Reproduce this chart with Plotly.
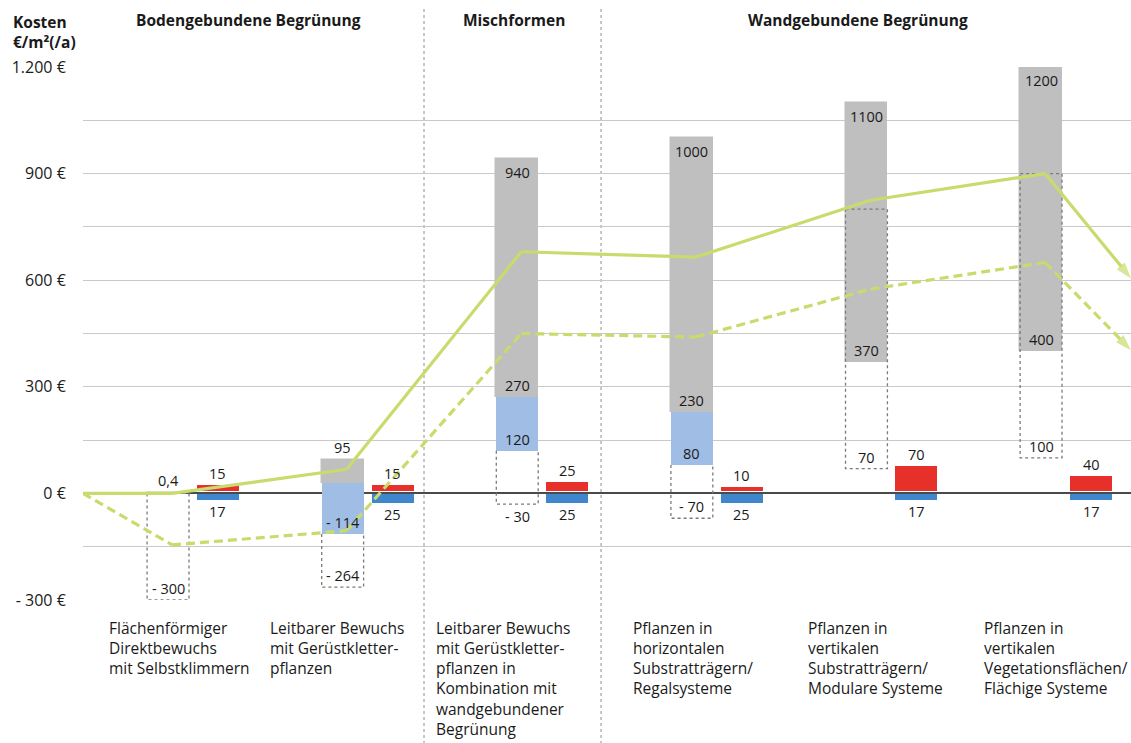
import numpy as np
import plotly.graph_objects as go

# ---------------------------------------------------------------- data
categories = [
    "Flächenförmiger<br>Direktbewuchs<br>mit Selbstklimmern",
    "Leitbarer Bewuchs<br>mit Gerüstkletter-<br>pflanzen",
    "Leitbarer Bewuchs<br>mit Gerüstkletter-<br>pflanzen in<br>Kombination mit<br>wandgebundener<br>Begrünung",
    "Pflanzen in<br>horizontalen<br>Substratträgern/<br>Regalsysteme",
    "Pflanzen in<br>vertikalen<br>Substratträgern/<br>Modulare Systeme",
    "Pflanzen in<br>vertikalen<br>Vegetationsflächen/<br>Flächige Systeme",
]
group_titles = ["Bodengebundene Begrünung", "Mischformen", "Wandgebundene Begrünung"]

# construction cost range (grey)
grey_low = [0, 30, 270, 230, 370, 400]
grey_high = [0.4, 95, 940, 1000, 1100, 1200]
# lower part of the range (light blue)
blue_low = [None, -114, 120, 80, None, None]
blue_high = [None, 30, 270, 230, None, None]
# net range (dotted box)
net_low = [-300, -264, -30, -70, 70, 100]
net_high = [0, 30, 650, 700, 800, 900]
# annual maintenance (red) and annual benefit (blue)
maintenance = [15, 15, 25, 10, 70, 40]
benefit = [17, 25, 25, 25, 17, 17]
# trend lines: start value, one value per category, end value
trend_solid = [0, 0, 68, 680, 665, 825, 900, 605]
trend_dashed = [0, -145, -105, 450, 440, 575, 650, 403]

y_ticks = [-300, -150, 0, 150, 300, 450, 600, 750, 900, 1050, 1200]
y_ticktext = ["- 300 €", "", "0 €", "", "300 €", "", "600 €", "", "900 €", "", "1.200 €"]

# ---------------------------------------------------------------- styles
FONT = "Open Sans, Noto Sans, sans-serif"
TXT = "#1a1a1a"
C_GREY = "#bfbfbf"
C_LBLUE = "#a0bde5"
C_RED = "#e8302a"
C_BLUE = "#3f86cc"
C_GREEN = "#c8db6c"
C_DOT = "#7a7a7a"

X_MIN, X_MAX = -0.63, 5.372
BAR_W = 0.24
OFF = 0.143
RED_GAP = 8
BLUE_GAP = 2

idx = np.arange(len(categories))
x_main = idx - OFF
x_side = idx + OFF
x_line = np.concatenate([[X_MIN], idx - 0.12, [X_MAX]])


def fmt(v):
    s = f"{abs(v):g}".replace(".", ",")
    return ("- " + s) if v < 0 else s


fig = go.Figure()

# grey cost range
fig.add_trace(go.Bar(
    x=x_main, base=grey_low, y=np.array(grey_high) - np.array(grey_low),
    width=BAR_W, marker=dict(color=C_GREY, line=dict(color=C_GREY, width=1.5)),
    hoverinfo="skip", showlegend=False))

# light blue part
bl_x, bl_base, bl_h = [], [], []
for i in idx:
    if blue_low[i] is not None:
        bl_x.append(x_main[i])
        bl_base.append(blue_low[i])
        bl_h.append(blue_high[i] - blue_low[i])
fig.add_trace(go.Bar(
    x=bl_x, base=bl_base, y=bl_h, width=BAR_W,
    marker=dict(color=C_LBLUE, line=dict(width=0)),
    hoverinfo="skip", showlegend=False))

# maintenance (red, upward) and benefit (blue, downward)
fig.add_trace(go.Bar(
    x=x_side, base=[RED_GAP] * len(idx), y=maintenance, width=BAR_W,
    marker=dict(color=C_RED, line=dict(width=0)),
    hoverinfo="skip", showlegend=False))
fig.add_trace(go.Bar(
    x=x_side, base=[-BLUE_GAP] * len(idx), y=[-b for b in benefit], width=BAR_W,
    marker=dict(color=C_BLUE, line=dict(width=0)),
    hoverinfo="skip", showlegend=False))

# dotted net-range boxes (the part hidden behind the light blue bar is left open)
bx, by = [], []
for i in idx:
    l, r = x_main[i] - BAR_W / 2, x_main[i] + BAR_W / 2
    top = net_high[i] if blue_low[i] is None else blue_low[i]
    if blue_low[i] is None:
        bx += [l, r, r, l, l, None]
        by += [top, top, net_low[i], net_low[i], top, None]
    else:
        bx += [l, l, r, r, None]
        by += [top, net_low[i], net_low[i], top, None]
fig.add_trace(go.Scatter(
    x=bx, y=by, mode="lines", line=dict(color=C_DOT, width=1.3, dash="dot"),
    hoverinfo="skip", showlegend=False))

# trend lines with arrow heads at the end
n = len(x_line)
arrow_sizes = [0] * (n - 1) + [17]
for vals, dash in [(trend_dashed, "9px,5px"), (trend_solid, "solid")]:
    fig.add_trace(go.Scatter(
        x=x_line, y=vals, mode="lines+markers",
        line=dict(color=C_GREEN, width=3.2, dash=dash),
        marker=dict(symbol="arrow", angleref="previous", size=arrow_sizes,
                    color=C_GREEN, line=dict(width=0)),
        cliponaxis=False, hoverinfo="skip", showlegend=False))

# ---------------------------------------------------------------- value labels
ann = []


def label(x, y, text, anchor, shift):
    ann.append(dict(x=x, y=y, xref="x", yref="y", text=text, showarrow=False,
                    xanchor="center", yanchor=anchor, yshift=shift,
                    font=dict(family=FONT, size=14.5, color=TXT)))


for i in idx:
    xm, xs = x_main[i], x_side[i]
    # grey top
    if grey_high[i] < 150:
        label(xm, grey_high[i], fmt(grey_high[i]), "bottom", 1)
    else:
        label(xm, grey_high[i], fmt(grey_high[i]), "top", -2)
    # grey bottom, where the grey range stands alone
    if grey_low[i] > 150:
        label(xm, grey_low[i], fmt(grey_low[i]), "bottom", 0)
    # light blue bottom
    if blue_low[i] is not None:
        label(xm, blue_low[i], fmt(blue_low[i]), "bottom", 0)
    # dotted box bottom
    if i == 2:
        label(xm, net_low[i], fmt(net_low[i]), "top", -1)
    else:
        label(xm, net_low[i], fmt(net_low[i]), "bottom", 0)
    # red and blue
    label(xs, RED_GAP + maintenance[i], fmt(maintenance[i]), "bottom", 0)
    label(xs, -BLUE_GAP - benefit[i], fmt(benefit[i]), "top", 0)

# category labels under the chart
cat_left = [-0.493, -0.570, -0.620, -0.491, -0.489, -0.481]
for i in idx:
    ann.append(dict(x=i + cat_left[i], y=-0.029, xref="x", yref="paper",
                    text=categories[i], showarrow=False, align="left",
                    xanchor="left", yanchor="top",
                    font=dict(family=FONT, size=15.5, color=TXT)))

# group headings
title_x = [0.315, 1.838, 3.809]
for t, x in zip(group_titles, title_x):
    ann.append(dict(x=x, y=1.088, xref="x", yref="paper", text=f"<b>{t}</b>",
                    showarrow=False, xanchor="center", yanchor="middle",
                    font=dict(family=FONT, size=15.5, color=TXT)))

# axis title
ann.append(dict(x=-0.0687, y=1.109, xref="paper", yref="paper",
                text="<b>Kosten</b><br><b>€/m²(/a)</b>", showarrow=False,
                align="left", xanchor="left", yanchor="top",
                font=dict(family=FONT, size=15.5, color=TXT)))

# dotted separators between the groups
shapes = []
for xs in [1.323, 2.337]:
    shapes.append(dict(type="line", xref="x", yref="paper", x0=xs, x1=xs,
                       y0=-0.27, y1=1.112, layer="below",
                       line=dict(color="#b5b5b5", width=1.5, dash="dot")))

fig.update_layout(
    width=1131, height=743,
    margin=dict(l=83, r=0, t=67, b=143),
    paper_bgcolor="white", plot_bgcolor="white",
    barmode="overlay", bargap=0,
    annotations=ann, shapes=shapes,
    font=dict(family=FONT, size=15, color=TXT),
    xaxis=dict(range=[X_MIN, X_MAX], showgrid=False, zeroline=False,
               showticklabels=False, ticks="", fixedrange=True),
    yaxis=dict(range=[-300, 1200], tickvals=y_ticks, ticktext=y_ticktext,
               showgrid=True, gridcolor="#c9c9c9", gridwidth=1,
               zeroline=True, zerolinecolor="#4a4a4a", zerolinewidth=1.5,
               ticks="outside", ticklen=13, tickcolor="rgba(0,0,0,0)",
               tickfont=dict(family=FONT, size=16, color=TXT),
               fixedrange=True),
)

fig.write_html("out.html")
